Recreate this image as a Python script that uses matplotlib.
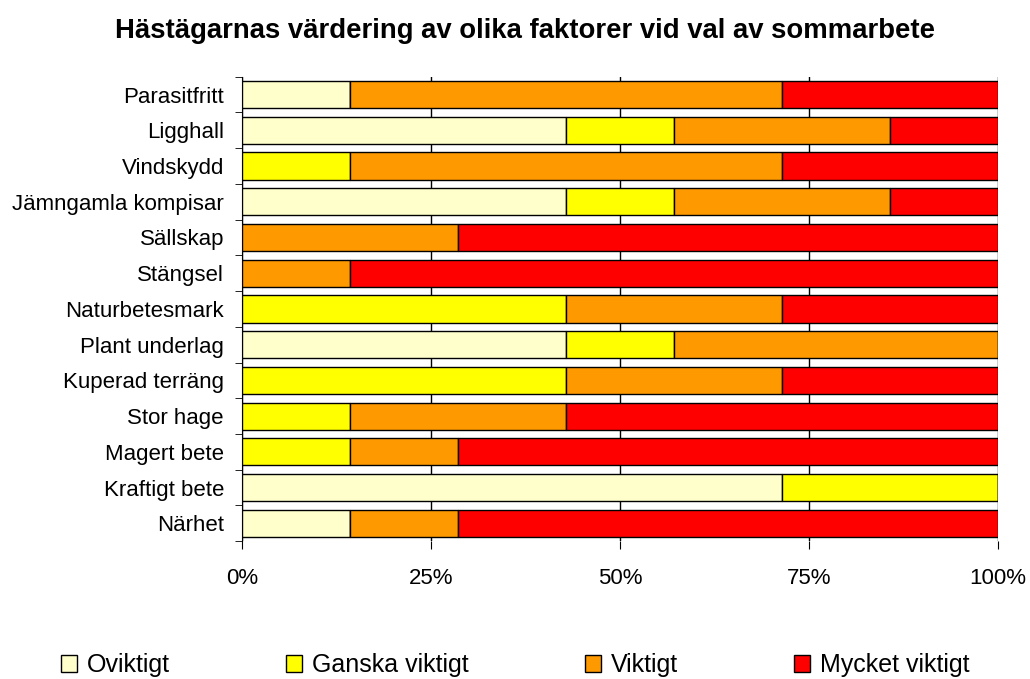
import numpy as np
import matplotlib.pyplot as plt
from matplotlib.ticker import FixedLocator, PercentFormatter

plt.rcParams['font.family'] = ['Liberation Sans', 'DejaVu Sans']

# kategorier uppifrån och ned
kategorier = ["Parasitfritt", "Ligghall", "Vindskydd", "Jämngamla kompisar", "Sällskap",
              "Stängsel", "Naturbetesmark", "Plant underlag", "Kuperad terräng",
              "Stor hage", "Magert bete", "Kraftigt bete", "Närhet"]

# antal svar (av 7)
oviktigt = [1, 3, 0, 3, 0, 0, 0, 3, 0, 0, 0, 5, 1]
ganska = [0, 1, 1, 1, 0, 0, 3, 1, 3, 1, 1, 2, 0]
viktigt = [4, 2, 4, 2, 2, 1, 2, 3, 2, 2, 1, 0, 1]
mycket = [2, 1, 2, 1, 5, 6, 2, 0, 2, 4, 5, 0, 5]

serier = ["Oviktigt", "Ganska viktigt", "Viktigt", "Mycket viktigt"]
farger = ["#FFFFCC", "#FFFF00", "#FF9900", "#FF0000"]

data = np.array([oviktigt, ganska, viktigt, mycket], dtype=float)
andel = data / data.sum(axis=0)

fig = plt.figure(figsize=(10.3, 6.79), dpi=100)
ax = fig.add_axes([0.235, 0.203, 0.734, 0.684])

y = np.arange(len(kategorier))
left = np.zeros(len(kategorier))
for i in range(4):
    ax.barh(y, andel[i], left=left, height=0.76, color=farger[i], edgecolor='black',
            linewidth=1, label=serier[i], zorder=3)
    left += andel[i]

ax.set_ylim(len(kategorier) - 0.5, -0.5)
ax.set_xlim(0, 1)
ax.set_yticks(y)
ax.set_yticklabels(kategorier, fontsize=16)
ax.yaxis.set_minor_locator(FixedLocator(np.arange(-0.5, len(kategorier), 1)))
ax.tick_params(axis='y', which='major', length=0, pad=13)
ax.tick_params(axis='y', which='minor', length=5, direction='out')
ax.set_xticks([0, 0.25, 0.5, 0.75, 1.0])
ax.xaxis.set_major_formatter(PercentFormatter(1.0, decimals=0))
ax.tick_params(axis='x', labelsize=16, length=6, direction='out', pad=13)

ax.grid(axis='x', color='black', linewidth=1, zorder=0)
ax.spines['top'].set_visible(False)
ax.spines['right'].set_visible(False)
ax.spines['bottom'].set_visible(False)

fig.suptitle("Hästägarnas värdering av olika faktorer vid val av sommarbete",
             fontsize=19.8, fontweight='bold', x=0.51, y=0.955, va='center')

fig.legend(loc='center', bbox_to_anchor=(0.5, 0.02), ncol=4, frameon=False,
           handlelength=0.64, handleheight=0.64, handletextpad=0.4, columnspacing=4.65,
           prop={'size': 18})

fig.savefig("out.png", dpi=100)
